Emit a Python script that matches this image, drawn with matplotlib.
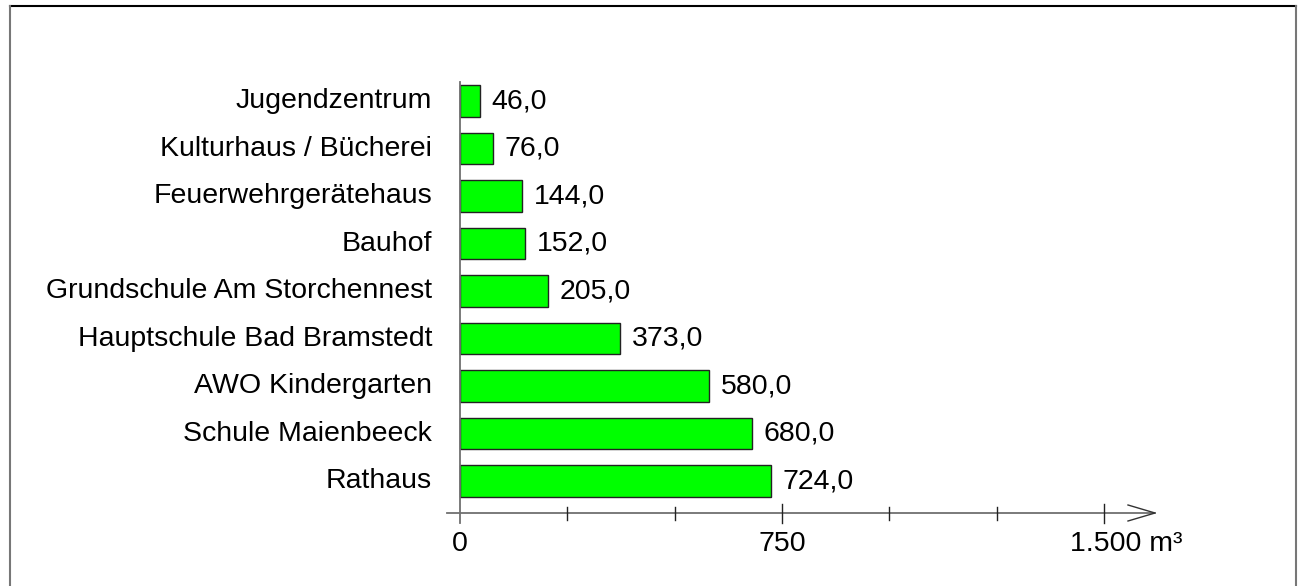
import matplotlib
matplotlib.use("Agg")
import matplotlib.pyplot as plt
from matplotlib.lines import Line2D

plt.rcParams['font.family'] = ['Liberation Sans', 'DejaVu Sans']

# Wasserverbrauch der Liegenschaften (m³)
categories = [
    "Rathaus",
    "Schule Maienbeeck",
    "AWO Kindergarten",
    "Hauptschule Bad Bramstedt",
    "Grundschule Am Storchennest",
    "Bauhof",
    "Feuerwehrgerätehaus",
    "Kulturhaus / Bücherei",
    "Jugendzentrum",
]
values = [724.0, 680.0, 580.0, 373.0, 205.0, 152.0, 144.0, 76.0, 46.0]
major_ticks = [0, 750, 1500]
minor_ticks = [250, 500, 1000, 1250]
tick_labels = ["0", "750", "1.500"]
unit = "m³"

FS = 20.5

W, H = 1300, 586
fig = plt.figure(figsize=(W / 100, H / 100), dpi=100)

# outer frame
fig.add_artist(Line2D([10 / W, 1296 / W], [1 - 6 / H, 1 - 6 / H], color="black", lw=1.5))
fig.add_artist(Line2D([10 / W, 10 / W], [0, 1 - 6 / H], color="#777777", lw=1.5))
fig.add_artist(Line2D([1296 / W, 1296 / W], [0, 1 - 6 / H], color="#777777", lw=1.5))

# axes placed in pixel terms
px_per_unit = 322 / 750.0
x_left_px, x_right_px = 447, 1165
y_top_px, y_bot_px = 82, 513
ax = fig.add_axes([x_left_px / W, 1 - y_bot_px / H,
                   (x_right_px - x_left_px) / W, (y_bot_px - y_top_px) / H])
xmin = -(460 - x_left_px) / px_per_unit
xmax = (x_right_px - 460) / px_per_unit
ax.set_xlim(xmin, xmax)
pitch = 47.5
ymin = -(513 - 481) / pitch
ymax = 8 + (101 - 82) / pitch
ax.set_ylim(ymin, ymax)
ax.axis("off")

ypos = list(range(len(categories)))
ax.barh(ypos, values, height=0.66, color="#00ff00", edgecolor="#222222",
        linewidth=1.0, zorder=3)

for y, v, name in zip(ypos, values, categories):
    ax.text(v + 12 / px_per_unit, y, f"{v:.1f}".replace(".", ","),
            va="center", ha="left", fontsize=FS, color="black")
    ax.text(-28 / px_per_unit, y, name, va="center", ha="right",
            fontsize=FS, color="black", clip_on=False)

axis_col = "#707070"
# vertical axis
ax.plot([0, 0], [ymin - 9.5 / pitch, ymax], color=axis_col, lw=1.3,
        clip_on=False, zorder=4)
# horizontal axis with open arrowhead
tip = (1155 - 460) / px_per_unit
ax.plot([xmin, tip], [ymin, ymin], color=axis_col, lw=1.3, clip_on=False, zorder=4)
arm_dx = 27 / px_per_unit
arm_dy = 8 / pitch
ax.plot([tip - arm_dx, tip, tip - arm_dx], [ymin + arm_dy, ymin, ymin - arm_dy],
        color="#333333", lw=1.0, clip_on=False, zorder=4)

for t in major_ticks[1:]:
    ax.plot([t, t], [ymin - 9.5 / pitch, ymin + 9.5 / pitch], color="#222222",
            lw=1.0, clip_on=False, zorder=4)
for t in minor_ticks:
    ax.plot([t, t], [ymin - 6.5 / pitch, ymin + 6.5 / pitch], color="#222222",
            lw=1.0, clip_on=False, zorder=4)

label_y = ymin - 31 / pitch
for t, lab in zip(major_ticks[:-1], tick_labels[:-1]):
    ax.text(t, label_y, lab, ha="center", va="center", fontsize=FS, clip_on=False)
ax.text(major_ticks[-1] - 34 / px_per_unit, label_y, f"{tick_labels[-1]} {unit}",
        ha="left", va="center", fontsize=FS, clip_on=False)

fig.savefig("out.png", dpi=100, facecolor="white")
